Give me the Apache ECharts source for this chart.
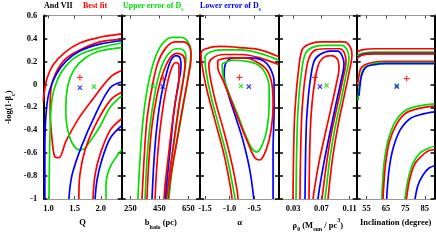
<!DOCTYPE html>
<html><head><meta charset="utf-8">
<script src="https://cdn.jsdelivr.net/npm/echarts@6/dist/echarts.min.js"></script>
<style>html,body{margin:0;padding:0;background:#fff}#c{width:436px;height:242px}</style>
</head><body><div id="c"></div>
<script>
// ---------- axis ranges & tick labels ----------
const yTicks = [-1, -0.8, -0.6, -0.4, -0.2, 0, 0.2, 0.4, 0.6];
const yTickLabels = ['-1', '-0.8', '-0.6', '-0.4', '-0.2', '0', '0.2', '0.4', '0.6'];
const qTicks = [1.0, 1.5, 2.0];           const qTickLabels = ['1.0', '1.5', '2.0'];
const bTicks = [250, 450, 650];           const bTickLabels = ['250', '450', '650'];
const aTicks = [-1.5, -1.0, -0.5];        const aTickLabels = ['-1.5', '-1.0', '-0.5'];
const rTicks = [0.03, 0.07, 0.11];        const rTickLabels = ['0.03', '0.07', '0.11'];
const iTicks = [55, 65, 75, 85];          const iTickLabels = ['55', '65', '75', '85'];
const xMins = [0.9, 190, -1.6, 0.01, 50];
const xMaxs = [2.4, 730, 0, 0.12, 90];

// ---------- panel 1 : Q ----------
const qRedA = [[2.40,0.44],[1.98,0.41],[1.60,0.36],[1.32,0.28],[1.09,0.17],[0.97,0.05],[0.91,-0.10],[0.90,-0.15]];
const qRedLoop = [[2.40,0.39],[1.98,0.37],[1.60,0.30],[1.32,0.22],[1.14,0.10],[1.05,-0.03],[1.03,-0.23],[1.07,-0.49],[1.12,-0.63],[1.20,-0.64],[1.33,-0.50],[1.56,-0.31],[1.83,-0.14],[2.18,0.06],[2.40,0.12]];
const qBlueA = [[2.40,0.38],[1.98,0.35],[1.60,0.29],[1.33,0.20],[1.14,0.08],[1.01,-0.07],[0.95,-0.27],[0.93,-0.57],[0.93,-1]];
const qGreenA = [[2.40,0.36],[1.98,0.32],[1.60,0.26],[1.35,0.17],[1.18,0.05],[1.07,-0.12],[1.03,-0.40],[1.01,-1]];
const qGreenLoop = [[2.40,0.32],[1.98,0.29],[1.70,0.23],[1.49,0.13],[1.37,-0.01],[1.33,-0.23],[1.39,-0.44],[1.53,-0.56],[1.64,-0.57],[1.79,-0.50],[1.98,-0.37],[2.18,-0.20],[2.40,-0.10]];
const qBlueB = [[2.40,0.02],[2.18,-0.03],[1.89,-0.27],[1.64,-0.53],[1.45,-0.79],[1.39,-1]];
const qRedC = [[2.40,-0.07],[2.18,-0.14],[1.89,-0.36],[1.70,-0.57],[1.60,-0.79],[1.58,-1]];
const qRedD = [[2.40,-0.30],[2.18,-0.40],[1.98,-0.62],[1.89,-0.79],[1.85,-1]];
const qBlueC = [[2.40,-0.36],[2.18,-0.47],[2.02,-0.66],[1.93,-0.83],[1.89,-1]];
const qGreenC = [[2.40,-0.57],[2.18,-0.72],[2.10,-0.88],[2.10,-1]];

// ---------- panel 2 : b_halo ----------
const bGreen1 = [[302,-1],[316,-0.66],[337,-0.31],[371,-0.01],[420,0.23],[475,0.36],[537,0.41],[599,0.41],[647,0.37],[668,0.28],[654,0.12],[627,-0.10],[585,-0.40],[537,-0.75],[516,-1]];
const bRed1 = [[330,-1],[344,-0.66],[364,-0.31],[399,-0.03],[440,0.19],[496,0.32],[558,0.37],[620,0.37],[661,0.32],[668,0.23],[647,0.05],[613,-0.18],[571,-0.49],[530,-0.79],[509,-1]];
const bGreen2 = [[351,-1],[364,-0.66],[385,-0.36],[420,-0.07],[461,0.14],[509,0.26],[565,0.31],[613,0.30],[633,0.23],[620,0.08],[592,-0.14],[558,-0.44],[523,-0.75],[502,-1]];
const bRed2 = [[364,-1],[378,-0.66],[399,-0.36],[433,-0.10],[475,0.10],[523,0.23],[571,0.27],[613,0.25],[627,0.18],[613,0.03],[585,-0.18],[551,-0.49],[520,-0.79],[496,-1]];
const bBlue1 = [[399,-1],[413,-0.66],[433,-0.36],[461,-0.11],[496,0.08],[530,0.21],[565,0.25],[592,0.23],[599,0.16],[578,-0.01],[551,-0.23],[527,-0.53],[503,-0.83],[489,-1]];
const bRed3 = [[420,-1],[433,-0.70],[454,-0.40],[482,-0.14],[509,0.03],[537,0.15],[565,0.19],[585,0.17],[585,0.05],[562,-0.14],[533,-0.40],[509,-0.66],[489,-0.88],[482,-1]];

// ---------- panel 3 : alpha ----------
const aRedO1 = [[0,0.24],[-0.39,0.30],[-0.79,0.32],[-1.20,0.33],[-1.48,0.31],[-1.58,0.27],[-1.56,0.17],[-1.46,-0.05],[-1.30,-0.31],[-1.11,-0.62],[-0.99,-0.88],[-0.95,-1]];
const aGreenO1 = [[0,0.21],[-0.39,0.27],[-0.79,0.30],[-1.15,0.30],[-1.40,0.28],[-1.50,0.23],[-1.48,0.12],[-1.38,-0.10],[-1.22,-0.36],[-1.05,-0.64],[-0.93,-0.90],[-0.89,-1]];
const aRedO2 = [[0,0.17],[-0.39,0.23],[-0.75,0.26],[-1.11,0.26],[-1.34,0.23],[-1.42,0.17],[-1.38,0.03],[-1.28,-0.16],[-1.11,-0.42],[-0.95,-0.70],[-0.85,-0.92],[-0.83,-1]];
const aRedLoop = [[-1.24,0.21],[-0.99,0.23],[-0.69,0.23],[-0.43,0.19],[-0.24,0.12],[-0.14,-0.01],[-0.12,-0.18],[-0.16,-0.40],[-0.26,-0.57],[-0.39,-0.66],[-0.49,-0.64],[-0.63,-0.51],[-0.79,-0.34],[-0.97,-0.14],[-1.13,0.03],[-1.24,0.15],[-1.24,0.21]];
const aGreenLoop = [[-1.15,0.18],[-0.93,0.21],[-0.65,0.20],[-0.43,0.17],[-0.28,0.10],[-0.20,-0.03],[-0.20,-0.18],[-0.24,-0.38],[-0.34,-0.53],[-0.45,-0.59],[-0.55,-0.56],[-0.69,-0.43],[-0.85,-0.25],[-1.01,-0.08],[-1.13,0.07],[-1.15,0.18]];
const aBlueU = [[-0.51,-1],[-0.59,-0.75],[-0.73,-0.49],[-0.89,-0.27],[-1.03,-0.08],[-1.11,0.08],[-1.09,0.17],[-0.93,0.23],[-0.63,0.23],[-0.34,0.21],[-0.18,0.14],[-0.10,0.02],[-0.10,-0.23],[-0.12,-0.57],[-0.12,-1]];

// ---------- panel 4 : rho0 ----------
const rRed1 = [[0.0298,-1],[0.0305,-0.66],[0.0319,-0.31],[0.0341,-0.10],[0.0369,0.08],[0.0426,0.30],[0.0525,0.35],[0.0695,0.37],[0.1020,0.37],[0.1105,0.33],[0.1133,0.26],[0.1091,0.10],[0.1020,-0.11],[0.0935,-0.36],[0.0864,-0.62],[0.0822,-0.83],[0.0794,-1]];
const rGreen1 = [[0.0341,-1],[0.0348,-0.66],[0.0362,-0.31],[0.0383,-0.10],[0.0411,0.07],[0.0468,0.26],[0.0567,0.32],[0.0737,0.34],[0.0992,0.34],[0.1063,0.30],[0.1091,0.23],[0.1049,0.08],[0.0978,-0.14],[0.0893,-0.38],[0.0822,-0.64],[0.0780,-0.85],[0.0751,-1]];
const rRed2 = [[0.0397,-1],[0.0404,-0.66],[0.0419,-0.31],[0.0440,-0.11],[0.0468,0.05],[0.0525,0.23],[0.0624,0.30],[0.0794,0.31],[0.0964,0.31],[0.1020,0.28],[0.1049,0.21],[0.1006,0.05],[0.0935,-0.16],[0.0850,-0.40],[0.0780,-0.66],[0.0737,-0.86],[0.0709,-1]];
const rBlue1 = [[0.0468,-1],[0.0475,-0.66],[0.0489,-0.33],[0.0511,-0.14],[0.0539,0.02],[0.0596,0.20],[0.0680,0.26],[0.0822,0.29],[0.0935,0.29],[0.0992,0.25],[0.1020,0.18],[0.0978,0.03],[0.0907,-0.17],[0.0822,-0.42],[0.0737,-0.68],[0.0680,-0.88],[0.0652,-1]];
const rRed3 = [[0.0525,-1],[0.0532,-0.66],[0.0546,-0.36],[0.0567,-0.17],[0.0596,-0.02],[0.0652,0.16],[0.0723,0.23],[0.0836,0.25],[0.0893,0.24],[0.0935,0.21],[0.0949,0.14],[0.0907,-0.01],[0.0836,-0.21],[0.0751,-0.44],[0.0666,-0.68],[0.0610,-0.88],[0.0581,-1]];

// ---------- panel 5 : inclination ----------
const iRedTop = [[50.15,0.28],[52.7,0.30],[59.4,0.31],[72.3,0.31],[90,0.31]];
const iGreenTop = [[50.15,0.25],[52.7,0.27],[59.4,0.28],[72.3,0.28],[90,0.28]];
const iBlueTop = [[50.15,0.23],[52.7,0.26],[59.4,0.27],[72.3,0.27],[90,0.27]];
const iRedTop2 = [[50.15,0.225],[52.7,0.255],[59.4,0.265],[72.3,0.265],[90,0.265]];
const iRedL = [[50.4,-0.01],[51.2,0.08],[52.2,0.14],[54.3,0.17],[57.9,0.19],[64.5,0.20],[77.4,0.20],[90,0.20]];
const iGreenL = [[50.7,-0.14],[51.2,-0.03],[52.2,0.07],[53.7,0.14],[56.8,0.17],[62,0.19],[72.3,0.19],[90,0.19]];
const iBlueL = [[51.2,-0.10],[51.7,-0.01],[52.7,0.09],[54.8,0.15],[58.4,0.17],[64.5,0.18],[77.4,0.18],[90,0.18]];
const iGreenArc1 = [[62.9,-1],[64.0,-0.70],[66.1,-0.49],[69.7,-0.33],[74.8,-0.23],[81.5,-0.19],[90,-0.17]];
const iRedArc1 = [[63.5,-1],[64.8,-0.70],[66.8,-0.50],[70.4,-0.35],[75.3,-0.25],[82.0,-0.21],[90,-0.19]];
const iBlueArc1 = [[65.4,-1],[66.6,-0.75],[68.7,-0.56],[72.3,-0.40],[77.4,-0.30],[83.6,-0.26],[90,-0.24]];
const iGreenArc2 = [[74.8,-1],[76.4,-0.83],[78.9,-0.69],[82.5,-0.60],[86.6,-0.56],[90,-0.54]];
const iRedArc2 = [[75.6,-1],[77.1,-0.84],[79.7,-0.70],[83.1,-0.63],[86.9,-0.58],[90,-0.57]];
const iBlueArc2 = [[80.0,-1],[81.5,-0.88],[84.1,-0.79],[87.2,-0.73],[90,-0.71]];

// ---------- markers (one per panel) ----------
const bestFit  = [[1.60,0.06],[477,0.05],[-0.80,0.06],[0.0610,0.06],[75.7,0.05]];
const upperErr = [[1.87,-0.02],[404,-0.015],[-0.77,-0.015],[0.0775,-0.01],[70.6,-0.01]];
const lowerErr = [[1.60,-0.03],[473,-0.02],[-0.61,-0.02],[0.0680,-0.02],[70.6,-0.02]];

// ---------- styling / layout ----------
const RED = '#ff0000', GREEN = '#00e000', BLUE = '#0000ff';
const FONT = '"Liberation Serif", "DejaVu Serif", serif';
const gridEdges = [43.3, 121.7, 200, 279, 356.7, 434.5];
const PLOT_TOP = 15.5, PLOT_H = 183.5;

const curves = [
  [0, RED, qRedA], [0, RED, qRedLoop], [0, BLUE, qBlueA], [0, GREEN, qGreenA], [0, GREEN, qGreenLoop],
  [0, BLUE, qBlueB], [0, RED, qRedC], [0, RED, qRedD], [0, BLUE, qBlueC], [0, GREEN, qGreenC],
  [1, GREEN, bGreen1], [1, RED, bRed1], [1, GREEN, bGreen2], [1, RED, bRed2], [1, BLUE, bBlue1], [1, RED, bRed3],
  [2, RED, aRedO1], [2, GREEN, aGreenO1], [2, RED, aRedO2], [2, BLUE, aBlueU], [2, GREEN, aGreenLoop], [2, RED, aRedLoop],
  [3, RED, rRed1], [3, GREEN, rGreen1], [3, RED, rRed2], [3, BLUE, rBlue1], [3, RED, rRed3],
  [4, RED, iRedTop], [4, GREEN, iGreenTop], [4, BLUE, iBlueTop], [4, RED, iRedTop2],
  [4, RED, iRedL], [4, GREEN, iGreenL], [4, BLUE, iBlueL],
  [4, GREEN, iGreenArc1], [4, RED, iRedArc1], [4, BLUE, iBlueArc1],
  [4, GREEN, iGreenArc2], [4, RED, iRedArc2], [4, BLUE, iBlueArc2]
];

const xTicks = [qTicks, bTicks, aTicks, rTicks, iTicks];
const xTickLabels = [qTickLabels, bTickLabels, aTickLabels, rTickLabels, iTickLabels];
const xNames = ['{n|Q}', '{n|b}{s|halo}{n| (pc)}', '{n|α}', '{n|ρ}{s|0}{n| (M}{s|sun}{n| / pc}{p|3}{n|)}', '{n|Inclination (degree)}'];

const richTxt = {
  n: {fontFamily: FONT, fontSize: 8.5, fontWeight: 'bold', color: '#000', lineHeight: 10},
  s: {fontFamily: FONT, fontSize: 6, fontWeight: 'bold', color: '#000', lineHeight: 15, verticalAlign: 'bottom'},
  p: {fontFamily: FONT, fontSize: 6, fontWeight: 'bold', color: '#000', lineHeight: 15, verticalAlign: 'top'}
};

function labelFor(ticks, labels) {
  return function (v) {
    const i = ticks.findIndex(t => Math.abs(t - v) < 1e-9);
    return i >= 0 ? labels[i] : '';
  };
}

const grids = [], xAxes = [], yAxes = [], series = [];
for (let p = 0; p < 5; p++) {
  grids.push({left: gridEdges[p], width: gridEdges[p + 1] - gridEdges[p], top: PLOT_TOP, height: PLOT_H, containLabel: false});
  const base = {gridIndex: p, type: 'value', min: xMins[p], max: xMaxs[p], splitLine: {show: false}};
  xAxes.push(Object.assign({}, base, {
    position: 'bottom',
    axisLine: {show: true, onZero: false, lineStyle: {color: '#999', width: 1}},
    axisTick: {show: true, inside: true, length: 3, customValues: xTicks[p], lineStyle: {color: '#444', width: 1}},
    axisLabel: {customValues: xTicks[p], formatter: labelFor(xTicks[p], xTickLabels[p]), fontFamily: FONT, fontSize: 8.5, fontWeight: 'bold', color: '#000', margin: 5},
    name: xNames[p], nameLocation: 'middle', nameGap: 16,
    nameTextStyle: {rich: richTxt}
  }));
  xAxes.push(Object.assign({}, base, {
    position: 'top',
    axisLine: {show: true, onZero: false, lineStyle: {color: '#999', width: 1}},
    axisTick: {show: true, inside: true, length: 3, customValues: xTicks[p], lineStyle: {color: '#444', width: 1}},
    axisLabel: {show: false}
  }));
  const ybase = {gridIndex: p, type: 'value', min: -1, max: 0.6, splitLine: {show: false},
    axisLine: {show: true, onZero: false, lineStyle: {color: '#000', width: 2}},
    axisTick: {show: true, inside: true, length: 4, customValues: yTicks, lineStyle: {color: '#000', width: 1.5}}};
  yAxes.push(Object.assign({}, ybase, {
    position: 'left',
    axisLabel: {show: p === 0, customValues: yTicks, formatter: labelFor(yTicks, yTickLabels), fontFamily: FONT, fontSize: 8.5, fontWeight: 'bold', color: '#000', margin: 6},
    name: p === 0 ? '{n|-log(1-β}{s|c}{n|)}' : '', nameLocation: 'middle', nameGap: 27, nameRotate: 90,
    nameTextStyle: {rich: richTxt}
  }));
  yAxes.push(Object.assign({}, ybase, {position: 'right', axisLabel: {show: false}}));
}

curves.forEach(([p, color, data]) => {
  series.push({type: 'line', xAxisIndex: 2 * p, yAxisIndex: 2 * p, data: data, showSymbol: false, symbol: 'none',
    smooth: 0.35, clip: true, silent: true, lineStyle: {color: color, width: 1.7}, z: 2});
});

const PLUS = 'path://M4,0H6V4H10V6H6V10H4V6H0V4H4Z';
for (let p = 0; p < 5; p++) {
  series.push({type: 'scatter', xAxisIndex: 2 * p, yAxisIndex: 2 * p, data: [upperErr[p]], symbol: PLUS, symbolRotate: 45, symbolSize: 6, itemStyle: {color: GREEN}, silent: true, z: 5});
  series.push({type: 'scatter', xAxisIndex: 2 * p, yAxisIndex: 2 * p, data: [lowerErr[p]], symbol: PLUS, symbolRotate: 45, symbolSize: 6, itemStyle: {color: BLUE}, silent: true, z: 6});
  series.push({type: 'scatter', xAxisIndex: 2 * p, yAxisIndex: 2 * p, data: [bestFit[p]], symbol: PLUS, symbolSize: 6, itemStyle: {color: RED}, silent: true, z: 7});
}

const legendRich = (col) => ({
  n: {fontFamily: FONT, fontSize: 8, fontWeight: 'bold', fill: col, lineHeight: 10},
  s: {fontFamily: FONT, fontSize: 5.5, fontWeight: 'bold', fill: col, lineHeight: 13, verticalAlign: 'bottom'}
});

const chart = echarts.init(document.getElementById('c'), null, {renderer: 'canvas'});
chart.setOption({
  animation: false,
  backgroundColor: '#fff',
  grid: grids, xAxis: xAxes, yAxis: yAxes, series: series,
  graphic: [
    {type: 'text', left: 44, top: 2, style: {text: '{n|And VII}', rich: legendRich('#000')}},
    {type: 'text', left: 83, top: 2, style: {text: '{n|Best fit}', rich: legendRich(RED)}},
    {type: 'text', left: 123, top: 2, style: {text: '{n|Upper error of D}{s|s}', rich: legendRich(GREEN)}},
    {type: 'text', left: 200, top: 2, style: {text: '{n|Lower error of D}{s|s}', rich: legendRich(BLUE)}}
  ]
});
</script></body></html>
